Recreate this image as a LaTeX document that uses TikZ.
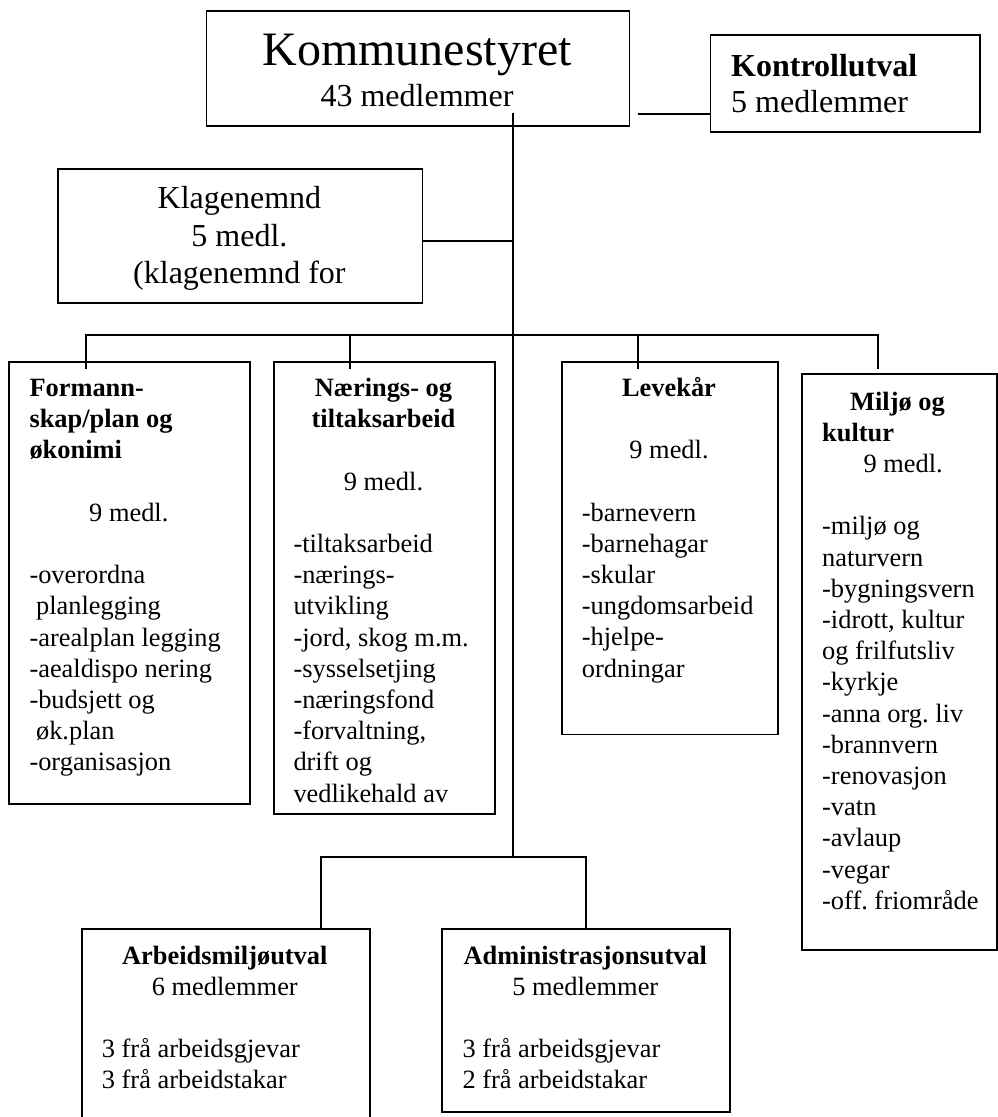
\documentclass[tikz,border=0pt]{standalone}
\usepackage{fontspec}
\setmainfont{Liberation Serif}
\newcommand{\bodyfont}{\fontsize{26.4}{31.2}\selectfont\frenchspacing}
\newcommand{\bigfont}{\fontsize{32}{37.5}\selectfont\frenchspacing}
\newcommand{\hugefont}{\fontsize{48}{56}\selectfont}
\tikzset{
  box/.style={draw, line width=1.8pt, rectangle, inner sep=0pt, anchor=north west},
  txt/.style={inner sep=0pt, font=\bodyfont},
  bigtxt/.style={inner sep=0pt, font=\bigfont},
  ln/.style={line width=1.8pt},
}
\newcommand{\boxat}[5]{\node[box, minimum width=#4pt, minimum height=#5pt] (#1) at (#2,#3) {};}
\newcommand{\linesat}[5]{%
  \foreach \t [count=\i from 0] in {#5} {
    \node[txt, anchor=#2] (#1-\i) at (#3, {#4+\i*31.2}) {\t};
  }}
\begin{document}
\begin{tikzpicture}[x=1pt, y=-1pt]
\fill[white] (0,0) rectangle (997,1117);
\useasboundingbox (0,0) rectangle (997,1117);

% boxes
\boxat{kom}{205.5}{10}{423}{115}
\boxat{kon}{709.6}{34}{269.6}{97}
\boxat{kla}{57.2}{167.7}{364.4}{134.6}
\boxat{fm}{8.3}{360.7}{241}{442.6}
\boxat{nae}{272.7}{360.7}{221.6}{452.6}
\boxat{lev}{561}{360.7}{216.3}{372.8}
\boxat{mil}{801}{372.7}{195}{576.3}
\boxat{arb}{80.8}{928.3}{288}{200}
\boxat{adm}{441.3}{928.3}{288}{182.4}

% connector coordinates
\coordinate (ktop) at (513,113.3);
\coordinate (kbot) at (513,856.7);
\coordinate (kc) at (638,114.3);
\coordinate (bus) at (513,335);
\coordinate (t1) at (86,369);
\coordinate (t2) at (350,369);
\coordinate (t3) at (637.7,369);
\coordinate (t4) at (878.3,369);
\coordinate (at1) at (321,928.3);
\coordinate (kl) at ([yshift=-4.7pt]kla.east);

% connectors
\draw[ln] (ktop) -- (kbot);
\draw[ln] (kc) -- (kc -| kon.west);
\draw[ln] (kl) -- (kl -| ktop);
\draw[ln] (t1) -- (t1 |- bus) -- (t4 |- bus) -- (t4);
\draw[ln] (t2) -- (t2 |- bus);
\draw[ln] (t3) -- (t3 |- bus);
\draw[ln] (at1) |- (adm.north |- kbot) -- (adm.north);

% top texts
\node[inner sep=0pt, font=\hugefont, anchor=base] (komt) at (417,65.5) {Kommunestyret};
\node[bigtxt, anchor=base] (komm) at (417,106.5) {43 medlemmer};
\node[bigtxt, anchor=base west] (kont) at (731,76) {\textbf{Kontrollutval}};
\node[bigtxt, anchor=base west] (konm) at (731,112) {5 medlemmer};
\node[bigtxt, anchor=base] (klat) at (239.4,208.3) {Klagenemnd};
\node[bigtxt, anchor=base] (klam) at (239.4,246.5) {5 medl.};
\node[bigtxt, anchor=base] (klaf) at (239.4,283.5) {(klagenemnd for};

% Formannskap
\linesat{fmt}{base west}{29.3}{396.5}{\textbf{Formann-},\textbf{skap/plan og},\textbf{økonimi}}
\node[txt, anchor=base] (fmm) at (128.8,521) {9 medl.};
\linesat{fmi}{base west}{29.3}{583.7}{-overordna,\ planlegging,-arealplan legging,-aealdispo nering,-budsjett og,\ øk.plan,-organisasjon}

% Nærings
\linesat{naet}{base}{383.5}{396.5}{\textbf{Nærings- og},\textbf{tiltaksarbeid}}
\node[txt, anchor=base] (naem) at (383.5,490.1) {9 medl.};
\linesat{naei}{base west}{293.3}{552.5}{-tiltaksarbeid,-nærings-,utvikling,{-jord, skog m.m.},-sysselsetjing,-næringsfond,{-forvaltning,},drift og,vedlikehald av}

% Levekår
\node[txt, anchor=base] (levt) at (669,396) {\textbf{Levekår}};
\node[txt, anchor=base] (levm) at (669,458.5) {9 medl.};
\linesat{levi}{base west}{581.7}{521}{-barnevern,-barnehagar,-skular,-ungdomsarbeid,-hjelpe-,ordningar}

% Miljø
\node[txt, anchor=base west] (milt1) at (850,410) {\textbf{Miljø og}};
\node[txt, anchor=base west] (milt2) at (822,441.2) {\textbf{kultur}};
\node[txt, anchor=base west] (milm) at (863.3,472.4) {9 medl.};
\linesat{mili}{base west}{822}{534.8}{-miljø og,naturvern,-bygningsvern,{-idrott, kultur},og frilfutsliv,-kyrkje,-anna org. liv,-brannvern,-renovasjon,-vatn,-avlaup,-vegar,-off. friområde}

% Arbeidsmiljøutval
\node[txt, anchor=base] (arbt) at (224.8,964) {\textbf{Arbeidsmiljøutval}};
\node[txt, anchor=base] (arbm) at (224.8,995.2) {6 medlemmer};
\linesat{arbi}{base west}{101.7}{1057.6}{3 frå arbeidsgjevar,3 frå arbeidstakar}

% Administrasjonsutval
\node[txt, anchor=base] (admt) at (585.3,964) {\textbf{Administrasjonsutval}};
\node[txt, anchor=base] (admm) at (585.3,995.2) {5 medlemmer};
\linesat{admi}{base west}{462.3}{1057.6}{3 frå arbeidsgjevar,2 frå arbeidstakar}
\end{tikzpicture}
\end{document}
